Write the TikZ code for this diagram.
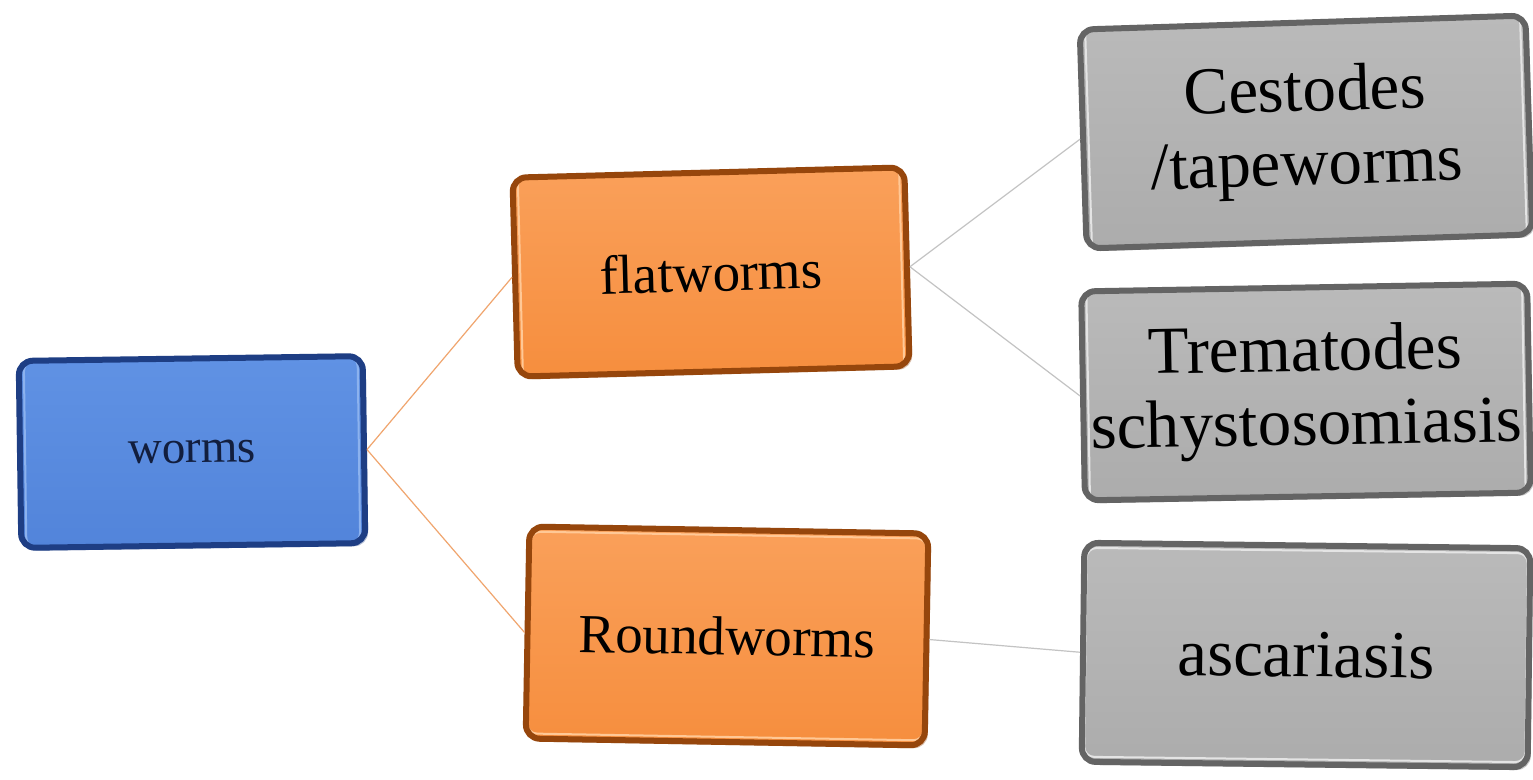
\documentclass[tikz,border=0pt]{standalone}
\usepackage{fontspec}
\setmainfont{Liberation Serif}
\usetikzlibrary{shadows}
\definecolor{bluemain}{RGB}{82,132,218}
\definecolor{bluetop}{RGB}{96,146,228}
\definecolor{bluedark}{RGB}{30,62,132}
\definecolor{bluelight}{RGB}{140,178,238}
\definecolor{orgmain}{RGB}{246,142,62}
\definecolor{orgtop}{RGB}{250,160,90}
\definecolor{orgdark}{RGB}{150,70,12}
\definecolor{orglight}{RGB}{255,200,150}
\definecolor{grymain}{RGB}{172,172,172}
\definecolor{grytop}{RGB}{186,186,186}
\definecolor{grydark}{RGB}{100,100,100}
\definecolor{grylight}{RGB}{228,228,228}
\definecolor{wormtext}{RGB}{18,30,62}
\definecolor{orgline}{RGB}{240,165,110}
\definecolor{gryline}{RGB}{195,195,195}
\tikzset{
  bevel/.style n args={4}{
    draw=#3, line width=6pt, rounded corners=14pt,
    top color=#2, bottom color=#1,
    inner sep=0pt, align=center,
    drop shadow={shadow xshift=3pt, shadow yshift=-3pt, opacity=0.35, fill=#3},
    path picture={\draw[#4, line width=2pt, rounded corners=10pt]
      ([shift={(5pt,-5pt)}]path picture bounding box.north west) rectangle
      ([shift={(-5pt,5pt)}]path picture bounding box.south east);}
  },
  bluebox/.style={bevel={bluemain}{bluetop}{bluedark}{bluelight},
    text=wormtext, font=\fontsize{47}{56}\selectfont},
  orangebox/.style={bevel={orgmain}{orgtop}{orgdark}{orglight},
    text=black, font=\fontsize{55}{66}\selectfont},
  graybox/.style={bevel={grymain}{grytop}{grydark}{grylight},
    text=black, font=\fontsize{67}{74}\selectfont},
  orangelink/.style={draw=orgline, line width=1.2pt},
  graylink/.style={draw=gryline, line width=1.2pt}
}
\begin{document}
\begin{tikzpicture}[x=1pt,y=-1pt]
\useasboundingbox[fill=white] (0,0) rectangle (1533,779);
\node[bluebox, minimum width=344pt, minimum height=187pt, rotate=0.8] (worms) at (192,452) {worms};
\node[orangebox, minimum width=392pt, minimum height=199pt, rotate=1.5] (flat) at (711,272) {flatworms};
\node[orangebox, minimum width=399pt, minimum height=212pt, rotate=-1] (round) at (727,636) {Roundworms};
\node[graybox, minimum width=446pt, minimum height=219pt, rotate=1.8] (cest) at (1306,132) {Cestodes\\/tapeworms};
\node[graybox, minimum width=446pt, minimum height=209pt, rotate=1] (trem) at (1306,392) {Trematodes\\schystosomiasis};
\node[graybox, minimum width=446pt, minimum height=219pt, rotate=-0.7] (asc) at (1306,655) {ascariasis};
\draw[orangelink] (worms.east) -- (flat.west);
\draw[orangelink] (worms.east) -- (round.west);
\draw[graylink] (flat.east) -- (cest.west);
\draw[graylink] (flat.east) -- (trem.west);
\draw[graylink] (round.east) -- (asc.west);
\end{tikzpicture}
\end{document}
